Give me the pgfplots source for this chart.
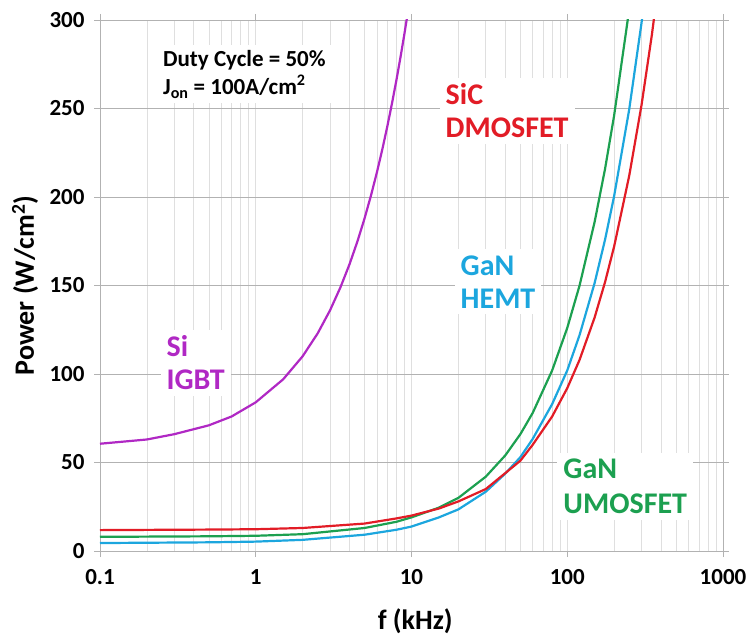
\documentclass[border=0pt]{standalone}
\usepackage{fontspec}
\setmainfont{Carlito}
\usepackage{pgfplots}
\pgfplotsset{compat=1.18}
\definecolor{cPur}{RGB}{176,40,196}
\definecolor{cRed}{RGB}{226,28,38}
\definecolor{cCya}{RGB}{28,166,222}
\definecolor{cGrn}{RGB}{28,160,80}
\begin{document}
\begin{tikzpicture}
\useasboundingbox (-100pt,-88pt) rectangle (654pt,551pt);
\begin{axis}[
  at={(0pt,0pt)}, anchor=south west,
  scale only axis, width=623pt, height=531pt,
  xmode=log, xmin=0.1, xmax=1000, ymin=0, ymax=300,
  xtick={0.1,1,10,100,1000}, xticklabels={0.1,1,10,100,1000},
  ytick={0,50,100,150,200,250,300},
  grid=both, yminorgrids=false,
  major x grid style={gray!25, line width=0.7pt},
  minor x grid style={gray!25, line width=0.7pt},
  major y grid style={gray!60, line width=0.8pt},
  axis line style={gray!60, line width=0.9pt},
  tick align=outside, major tick length=6pt, minor tick length=0pt,
  tick style={gray!60, line width=0.8pt},
  /pgf/number format/assume math mode=true,
  tick label style={font=\fontsize{23}{23}\selectfont\bfseries},
  xticklabel shift=9pt,
  yticklabel shift=6pt,
  xlabel={f (kHz)}, ylabel={Power (W/cm\textsuperscript{2})},
  label style={font=\fontsize{28}{28}\selectfont\bfseries},
  xlabel style={at={(rel axis cs:0.506,-0.132)}, anchor=center},
  ylabel style={at={(rel axis cs:-0.1204,0.5)}, anchor=center, rotate=0},
]
\addplot[cPur, line width=2.2pt] coordinates {
 (0.1,60.6) (0.2,63) (0.3,66) (0.5,71) (0.7,76) (1,84) (1.5,97) (2,110) (2.5,123) (3,136) (3.5,149) (4,162) (4.5,175) (5,188) (5.5,201) (6,214) (6.5,227) (7,240) (7.5,253) (8,266) (8.5,279) (9,292) (9.5,305) (10,318)};
\addplot[cGrn, line width=2.2pt] coordinates {
 (0.1,8) (0.5,8.3) (1,8.6) (2,9.5) (5,13) (8,16.5) (10,19) (15,24.5) (20,30) (30,42) (40,54) (50,66) (60,78) (80,102) (100,126) (120,150) (150,186) (175,216) (200,246) (250,306)};
\addplot[cCya, line width=2.2pt] coordinates {
 (0.1,4.5) (0.5,4.9) (1,5.3) (2,6.3) (5,9.2) (8,12) (10,13.8) (15,19) (20,23.5) (30,33.5) (40,43.7) (50,53) (60,63.3) (80,83) (100,102) (120,122) (150,151.5) (175,176) (200,200.5) (250,249.5) (300,298.5) (350,348)};
\addplot[cRed, line width=2.2pt] coordinates {
 (0.1,11.8) (0.5,12.1) (1,12.3) (2,13) (5,15.5) (8,18.4) (10,20) (15,24) (20,28) (30,35) (40,44) (50,51) (60,60) (80,76) (100,92) (120,108) (150,132) (175,152) (200,172) (250,212) (300,252) (350,292) (400,332)};
\node[anchor=west, align=left, fill=white, inner sep=5pt, font=\fontsize{23}{28}\selectfont\bfseries]
  at (rel axis cs:0.093,0.898) {Duty Cycle = 50\%\\J\textsubscript{on} = 100A/cm\textsuperscript{2}};
\node[anchor=west, align=left, fill=white, inner sep=6pt, text=cRed, font=\fontsize{30}{33}\selectfont\bfseries]
  at (rel axis cs:0.545,0.829) {SiC\\DMOSFET};
\node[anchor=west, align=left, fill=white, inner sep=6pt, text=cCya, font=\fontsize{30}{33}\selectfont\bfseries]
  at (rel axis cs:0.569,0.507) {GaN\\HEMT};
\node[anchor=west, align=left, fill=white, inner sep=6pt, text=cPur, font=\fontsize{30}{33}\selectfont\bfseries]
  at (rel axis cs:0.097,0.354) {Si\\IGBT};
\node[anchor=west, align=left, fill=white, inner sep=6pt, text=cGrn, font=\fontsize{30}{35}\selectfont\bfseries]
  at (rel axis cs:0.734,0.122) {GaN\\UMOSFET};
\end{axis}
\end{tikzpicture}
\end{document}
